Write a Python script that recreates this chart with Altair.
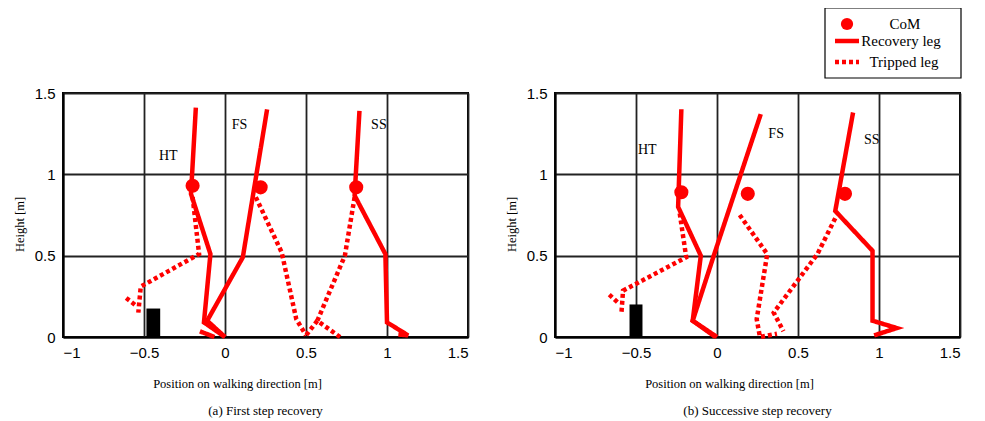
import altair as alt
import pandas as pd

LEGEND_KINDS = ["CoM", "Recovery leg", "Tripped leg"]
PHASES = ["HT", "FS", "SS"]
X_TICKS = [-1, -0.5, 0, 0.5, 1, 1.5]
Y_TICKS = [0, 0.5, 1, 1.5]

# ---------- panel (a) First step recovery ----------
A_HT_REC_X = [-0.18, -0.21, -0.09, -0.13, 0.0]
A_HT_REC_Y = [1.41, 0.88, 0.51, 0.09, 0.0]
A_HT_TRIP_X = [-0.20, -0.16, -0.52, -0.535]
A_HT_TRIP_Y = [0.86, 0.51, 0.31, 0.15]
A_HT_TRIP_HEEL_X = [-0.61, -0.545]
A_HT_TRIP_HEEL_Y = [0.24, 0.19]
A_FS_REC_X = [0.26, 0.11, -0.11, 0.0]
A_FS_REC_Y = [1.40, 0.49, 0.10, 0.0]
A_FS_REC_HEEL_X = [-0.155, -0.065]
A_FS_REC_HEEL_Y = [0.035, 0.0]
A_FS_TRIP_X = [0.19, 0.35, 0.44, 0.50]
A_FS_TRIP_Y = [0.86, 0.52, 0.11, 0.01]
A_SS_REC_X = [0.83, 0.80, 0.99, 1.0, 1.13, 1.07]
A_SS_REC_Y = [1.39, 0.87, 0.51, 0.09, 0.01, 0.015]
A_SS_TRIP_X = [0.80, 0.74, 0.57, 0.71]
A_SS_TRIP_Y = [0.86, 0.50, 0.10, 0.0]
A_SS_TRIP_HEEL_X = [0.57, 0.50]
A_SS_TRIP_HEEL_Y = [0.10, 0.01]
A_COM_X = [-0.20, 0.22, 0.81]
A_COM_Y = [0.93, 0.92, 0.92]
A_LABEL_X = [-0.35, 0.09, 0.95]
A_LABEL_Y = [1.115, 1.305, 1.305]
A_OBST_X = [-0.485, -0.40]
A_OBST_H = 0.175

# ---------- panel (b) Successive step recovery ----------
B_HT_REC_X = [-0.22, -0.24, -0.10, -0.15, -0.01]
B_HT_REC_Y = [1.40, 0.80, 0.50, 0.10, 0.0]
B_HT_TRIP_X = [-0.23, -0.19, -0.58, -0.59]
B_HT_TRIP_Y = [0.76, 0.49, 0.285, 0.145]
B_HT_TRIP_HEEL_X = [-0.665, -0.605]
B_HT_TRIP_HEEL_Y = [0.26, 0.205]
B_FS_REC_X = [0.27, -0.02, -0.15, 0.0]
B_FS_REC_Y = [1.37, 0.50, 0.10, 0.0]
B_FS_TRIP_X = [0.14, 0.31, 0.245, 0.265, 0.37]
B_FS_TRIP_Y = [0.75, 0.51, 0.11, 0.0, 0.02]
B_SS_REC_X = [0.84, 0.73, 0.96, 0.96, 1.11, 0.97]
B_SS_REC_Y = [1.38, 0.775, 0.53, 0.10, 0.055, 0.01]
B_SS_TRIP_X = [0.73, 0.62, 0.35, 0.41]
B_SS_TRIP_Y = [0.73, 0.51, 0.15, 0.035]
B_COM_X = [-0.22, 0.19, 0.79]
B_COM_Y = [0.89, 0.88, 0.88]
B_LABEL_X = [-0.43, 0.365, 0.955]
B_LABEL_Y = [1.148, 1.246, 1.209]
B_OBST_X = [-0.54, -0.46]
B_OBST_H = 0.20

A_STROKES = [
    ("HT", "Recovery leg", A_HT_REC_X, A_HT_REC_Y),
    ("HT", "Tripped leg", A_HT_TRIP_X, A_HT_TRIP_Y),
    ("HT", "Tripped leg", A_HT_TRIP_HEEL_X, A_HT_TRIP_HEEL_Y),
    ("FS", "Recovery leg", A_FS_REC_X, A_FS_REC_Y),
    ("FS", "Recovery leg", A_FS_REC_HEEL_X, A_FS_REC_HEEL_Y),
    ("FS", "Tripped leg", A_FS_TRIP_X, A_FS_TRIP_Y),
    ("SS", "Recovery leg", A_SS_REC_X, A_SS_REC_Y),
    ("SS", "Tripped leg", A_SS_TRIP_X, A_SS_TRIP_Y),
    ("SS", "Tripped leg", A_SS_TRIP_HEEL_X, A_SS_TRIP_HEEL_Y),
]
B_STROKES = [
    ("HT", "Recovery leg", B_HT_REC_X, B_HT_REC_Y),
    ("HT", "Tripped leg", B_HT_TRIP_X, B_HT_TRIP_Y),
    ("HT", "Tripped leg", B_HT_TRIP_HEEL_X, B_HT_TRIP_HEEL_Y),
    ("FS", "Recovery leg", B_FS_REC_X, B_FS_REC_Y),
    ("FS", "Tripped leg", B_FS_TRIP_X, B_FS_TRIP_Y),
    ("SS", "Recovery leg", B_SS_REC_X, B_SS_REC_Y),
    ("SS", "Tripped leg", B_SS_TRIP_X, B_SS_TRIP_Y),
]

SERIF = "Liberation Serif"
SANS = "Liberation Sans"
RED = "#ff0000"
DASH = {"CoM": [1, 0], "Recovery leg": [1, 0], "Tripped leg": [4, 3]}


def strokes_df(tag, strokes):
    rows = []
    for sid, (phase, kind, xs, ys) in enumerate(strokes):
        for i, (x, y) in enumerate(zip(xs, ys)):
            rows.append(dict(stroke=f"{tag}{sid}", phase=phase, kind=kind, order=i, x=x, y=y))
    return pd.DataFrame(rows)


def legend_layers():
    """Boxed key drawn above the right panel (pixel offsets from the plot origin)."""
    row_y = [-69, -52, -31]
    box = alt.Chart(pd.DataFrame({"k": [0]})).mark_rect(
        fill="white", stroke="black", strokeWidth=1.2
    ).encode(x=alt.value(270), x2=alt.value(406), y=alt.value(-85), y2=alt.value(-15))
    layers = [box]
    com_key = alt.Chart(pd.DataFrame({"kind": [LEGEND_KINDS[0]]})).mark_point(
        filled=True, color=RED, opacity=1, size=150, shape="circle"
    ).encode(x=alt.value(292), y=alt.value(row_y[0]))
    layers.append(com_key)
    for kind, yy in zip(LEGEND_KINDS[1:], row_y[1:]):
        layers.append(
            alt.Chart(pd.DataFrame({"kind": [kind]})).mark_rule(
                color=RED, strokeWidth=4.5, strokeDash=DASH[kind], strokeCap="butt"
            ).encode(x=alt.value(280), x2=alt.value(304), y=alt.value(yy))
        )
    for kind, yy, xx in zip(LEGEND_KINDS, row_y, [350, 346, 349]):
        layers.append(
            alt.Chart(pd.DataFrame({"kind": [kind]})).mark_text(
                font=SERIF, fontSize=15, color="black", align="center", baseline="middle"
            ).encode(x=alt.value(xx), y=alt.value(yy), text="kind:N")
        )
    return layers


def make_panel(tag, strokes, com_x, com_y, lab_x, lab_y, obst_x, obst_h, caption, show_legend):
    xscale = alt.Scale(domain=[-1, 1.5], nice=False, zero=False)
    yscale = alt.Scale(domain=[0, 1.5], nice=False, zero=False)
    X = alt.X("x:Q", scale=xscale,
              axis=alt.Axis(values=X_TICKS, format="~g", title="Position on walking direction [m]",
                            titleX=174))
    Y = alt.Y("y:Q", scale=yscale,
              axis=alt.Axis(values=Y_TICKS, format="~g", title="Height  [m]"))

    lines_df = strokes_df(tag, strokes)
    lines = alt.Chart(lines_df).mark_line(color=RED, strokeWidth=4.5, strokeCap="butt").encode(
        x=X, y=Y,
        detail="stroke:N",
        order="order:Q",
        strokeDash=alt.StrokeDash("kind:N", scale=alt.Scale(domain=LEGEND_KINDS,
                                                            range=[DASH[k] for k in LEGEND_KINDS]),
                                  legend=None),
    )

    com_df = pd.DataFrame({"x": com_x, "y": com_y, "phase": PHASES, "kind": ["CoM"] * 3})
    com = alt.Chart(com_df).mark_point(filled=True, color=RED, opacity=1, size=200, shape="circle").encode(
        x=X, y=Y)

    lab_df = pd.DataFrame({"x": lab_x, "y": lab_y, "phase": PHASES})
    labels = alt.Chart(lab_df).mark_text(font=SERIF, fontSize=14, color="black").encode(
        x=X, y=Y, text="phase:N")

    obst_df = pd.DataFrame({"x": [obst_x[0]], "x2": [obst_x[1]], "y": [0.0], "y2": [obst_h]})
    obstacle = alt.Chart(obst_df).mark_rect(color="black").encode(x=X, x2="x2:Q", y=Y, y2="y2:Q")

    layers = [obstacle, lines, com, labels]
    if show_legend:
        layers += legend_layers()

    return alt.layer(*layers).properties(
        width=405, height=244,
        title=alt.TitleParams(caption, orient="bottom", font=SERIF, fontSize=13,
                              fontWeight="normal", color="black", offset=15, anchor="middle"),
    )


left = make_panel("a", A_STROKES, A_COM_X, A_COM_Y, A_LABEL_X, A_LABEL_Y, A_OBST_X, A_OBST_H,
                  "(a) First step recovery", False)
right = make_panel("b", B_STROKES, B_COM_X, B_COM_Y, B_LABEL_X, B_LABEL_Y, B_OBST_X, B_OBST_H,
                   "(b) Successive step recovery", True)

chart = alt.hconcat(left, right, spacing=35).properties(
    padding={"left": 4, "top": -2, "right": 5, "bottom": 5}
).configure_view(
    stroke="black", strokeWidth=2
).configure_axis(
    grid=True, gridColor="#222222", gridWidth=1.8, gridOpacity=1,
    domain=True, domainColor="black", domainWidth=2,
    ticks=False, labelPadding=8,
    labelFont=SANS, labelFontSize=15, labelColor="black",
    titleFont=SERIF, titleFontSize=12.5, titleFontWeight="normal", titleColor="black",
).configure_axisX(titlePadding=17).configure_axisY(titlePadding=8, titleY=131)

chart.save("out.html", embed_options={"renderer": "svg", "actions": False})
